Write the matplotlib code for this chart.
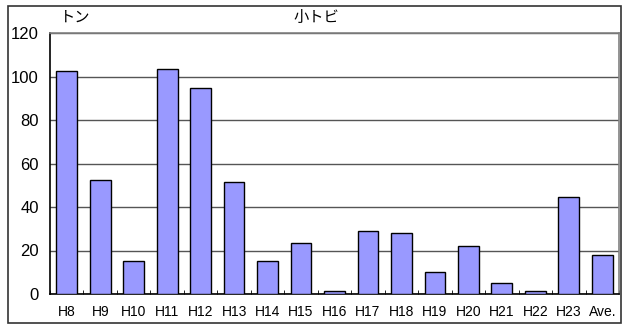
import numpy as np
import matplotlib.pyplot as plt
from matplotlib.patches import Rectangle

plt.rcParams['font.family'] = ['Noto Sans CJK JP', 'DejaVu Sans']

categories = ['H8', 'H9', 'H10', 'H11', 'H12', 'H13', 'H14', 'H15', 'H16',
              'H17', 'H18', 'H19', 'H20', 'H21', 'H22', 'H23', 'Ave.']
values = [102.5, 52.4, 15.2, 103.4, 94.7, 51.5, 15.2, 23.4, 1.4,
          29.0, 28.0, 10.0, 22.0, 5.0, 1.4, 44.6, 18.0]
yticks = [0, 20, 40, 60, 80, 100, 120]

W, H = 631, 327
fig = plt.figure(figsize=(W / 100, H / 100), dpi=100)

# outer frame of the chart
fig.patches.append(Rectangle((8 / W, 1 - 323 / H), 613 / W, 317 / H,
                             transform=fig.transFigure, fill=False,
                             edgecolor='#333333', linewidth=1.2))

ax = fig.add_axes([50 / W, 1 - 294 / H, 569 / W, 261 / H])
x = np.arange(len(categories))
ax.bar(x, values, width=0.62, color='#9999FF', edgecolor='black', linewidth=1.0, zorder=3)

ax.set_xlim(-0.5, len(categories) - 0.5)
ax.set_ylim(0, 120)
ax.set_yticks(yticks)
ax.set_yticklabels([str(v) for v in yticks], fontsize=12, family=['Liberation Sans'])
ax.tick_params(axis='y', length=0, pad=8)
ax.grid(axis='y', color='#555555', linewidth=1.0, zorder=0)

ax.set_xticks(x)
ax.set_xticklabels(categories, fontsize=10, family=['Liberation Sans'])
ax.tick_params(axis='x', length=0, pad=8)
ax.set_xticks(np.arange(len(categories) + 1) - 0.5, minor=True)
ax.tick_params(axis='x', which='minor', direction='in', length=3, color='black')

ax.spines['left'].set_color('black')
ax.spines['bottom'].set_color('black')
ax.spines['top'].set_color('#808080')
ax.spines['right'].set_color('#808080')
for s in ax.spines.values():
    s.set_linewidth(1.2)

fig.text(75 / W, 1 - 17 / H, 'トン', fontsize=11, ha='center', va='center')
fig.text(316 / W, 1 - 17 / H, '小トビ', fontsize=11, ha='center', va='center')

plt.savefig('out.png', dpi=100)
plt.close()
